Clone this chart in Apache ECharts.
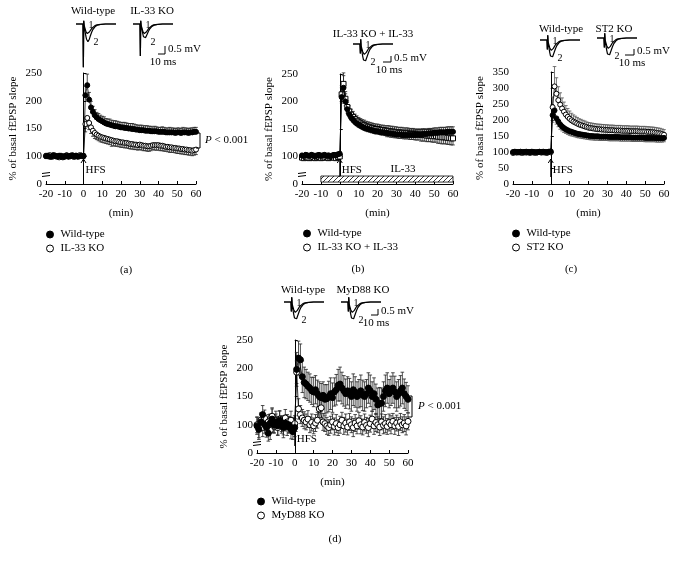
<!DOCTYPE html>
<html><head><meta charset="utf-8">
<script src="https://cdn.jsdelivr.net/npm/echarts@6/dist/echarts.min.js"></script>
<style>html,body{margin:0;padding:0;background:#fff}#c{width:676px;height:561px}</style>
</head><body><div id="c"></div>
<script>
// ---------- DATA ----------
const minutes = [-20,-19,-18,-17,-16,-15,-14,-13,-12,-11,-10,-9,-8,-7,-6,-5,-4,-3,-2,-1,0,
1,2,3,4,5,6,7,8,9,10,11,12,13,14,15,16,17,18,19,20,21,22,23,24,25,26,27,28,29,30,
31,32,33,34,35,36,37,38,39,40,41,42,43,44,45,46,47,48,49,50,51,52,53,54,55,56,57,58,59,60];

// (a) Wild-type vs IL-33 KO
const aWT = [100,101,99,100,102,100,99,101,100,98,100,101,99,100,102,100,101,99,100,101,100,
210,228,202,188,180,174,170,167,165,163,161,159,158,157,156,155,154,154,153,152,
152,151,151,150,150,149,149,148,148,147,147,147,146,146,146,145,145,145,145,144,
144,144,144,143,143,143,143,143,142,143,143,142,143,143,143,142,143,143,144,144];
const aWTerr = [4,4,3,4,4,3,4,4,3,4,4,3,4,4,3,4,4,3,4,4,4,
16,20,13,11,10,10,9,10,9,9,10,9,9,10,9,9,10,9,9,9,
9,10,9,9,9,10,9,9,8,9,9,8,9,9,8,9,8,9,8,8,
8,9,8,8,8,9,8,8,8,8,8,8,9,8,8,8,8,8,8,8];
const aKO = [101,100,102,99,100,101,100,98,101,100,99,102,100,101,100,99,101,100,102,101,101,
158,169,160,152,146,142,139,137,135,134,133,132,131,130,129,128,127,127,126,125,
125,124,124,123,122,122,121,121,120,121,120,119,119,118,118,119,120,120,120,120,
119,119,118,117,117,116,116,115,115,114,114,113,113,112,112,111,111,110,111,112];
const aKOerr = [4,3,4,4,3,4,4,3,4,4,3,4,4,3,4,4,3,4,4,3,4,
14,16,12,11,10,10,9,9,9,9,9,9,9,9,11,9,9,9,9,9,
9,9,9,9,9,9,9,9,9,9,9,9,9,9,9,9,8,9,9,9,
9,9,9,8,9,9,9,8,9,9,9,9,9,9,9,9,9,9,9,9];

// (b) Wild-type vs IL-33 KO + IL-33
const bWT = [102,101,103,102,101,103,102,100,102,103,101,102,103,101,102,100,102,103,102,104,105,
208,225,200,186,177,171,167,163,160,158,156,154,152,151,150,149,148,147,146,146,
145,144,144,143,143,142,142,141,141,140,140,140,139,139,139,139,139,139,139,139,
140,140,140,141,141,141,142,142,142,143,143,143,144,144,144,144,145,145,145,145];
const bWTerr = [3,3,4,3,3,4,3,3,4,3,3,4,3,3,4,3,3,4,3,3,4,
17,22,14,12,11,10,10,9,9,9,9,9,9,9,9,9,9,9,9,9,
9,9,9,9,9,9,9,9,9,9,9,9,9,9,9,9,9,9,9,9,
9,9,9,9,9,9,9,9,9,9,9,9,9,9,9,9,9,9,9,9];
const bKO = [98,97,99,98,97,98,99,97,98,99,97,98,98,99,97,98,99,98,97,99,100,
213,232,205,190,182,176,172,168,165,162,160,158,157,155,154,153,152,151,150,150,
149,148,148,147,146,146,145,145,144,144,143,143,143,142,142,142,141,141,141,140,
140,140,139,139,139,138,138,138,137,137,137,136,136,135,135,135,134,134,133,133];
const bKOerr = [4,3,3,4,3,3,4,3,3,4,3,3,4,3,3,4,3,3,4,3,3,
16,20,13,11,10,10,10,9,9,9,9,9,9,9,9,9,9,9,9,9,
9,9,9,9,10,10,10,10,10,10,10,10,10,10,10,10,10,10,10,10,
10,10,11,11,11,11,11,11,11,11,11,12,12,12,12,12,12,12,12,12];

// (c) Wild-type vs ST2 KO
const cWT = [100,101,100,99,101,100,100,101,99,100,101,100,100,99,101,100,101,100,100,101,102,
215,230,205,195,186,180,175,171,168,165,163,161,159,157,156,155,154,153,152,151,
150,150,149,149,149,148,148,148,148,148,147,147,147,147,147,147,146,146,146,146,
146,146,145,145,145,145,145,145,145,144,144,144,144,144,144,143,143,143,143,144];
const cWTerr = [5,5,6,5,5,6,5,5,6,5,5,6,5,5,6,5,5,6,5,5,6,
22,24,18,16,15,14,14,13,13,13,13,12,12,12,12,12,12,12,12,12,
12,12,12,12,12,12,12,12,12,12,12,12,12,12,12,12,12,12,12,12,
12,12,12,12,12,12,12,12,12,12,12,12,12,12,12,12,12,12,12,12];
const cKO = [97,99,98,100,98,97,99,98,100,97,99,98,97,99,100,98,99,98,97,100,99,
240,305,282,262,248,236,226,217,210,204,199,195,192,189,186,184,182,180,178,176,
175,174,173,172,171,171,170,170,169,169,168,168,168,167,167,167,167,166,166,166,
166,165,165,165,165,165,164,164,164,164,163,163,162,162,161,160,159,158,156,154];
const cKOerr = [6,5,6,6,5,6,6,5,6,6,5,6,6,5,6,6,5,6,6,5,6,
32,62,50,42,37,33,30,28,26,24,22,21,20,19,18,18,17,17,16,16,
16,16,16,16,16,16,16,16,16,16,16,16,16,16,16,16,16,16,16,16,
16,16,16,16,16,16,16,16,16,16,16,16,16,16,16,16,16,16,16,16];

// (d) Wild-type vs MyD88 KO
const dWT = [98,92,105,118,100,95,85,103,110,100,105,98,108,100,95,103,97,100,92,88,95,
198,218,215,185,175,172,168,165,160,158,162,155,150,148,152,145,146,150,155,148,
158,162,170,172,165,160,155,160,155,150,162,158,150,155,160,152,150,155,165,160,
150,155,145,135,138,138,150,160,165,155,160,165,158,150,155,160,165,155,150,145];
const dWTerr = [15,18,14,16,15,17,14,16,18,15,14,17,16,15,18,14,16,15,17,14,16,
30,30,28,28,27,26,25,25,24,26,25,24,26,25,24,26,25,27,28,26,
25,27,28,30,28,27,26,25,27,26,28,27,26,25,28,27,26,25,27,28,
26,28,27,30,28,27,26,28,27,25,26,27,28,26,25,27,28,26,25,24];
const dKO = [100,92,108,95,112,98,105,90,115,100,108,95,110,102,98,112,105,100,108,98,102,
193,128,118,112,108,105,110,100,104,98,103,108,128,130,105,102,98,95,100,105,
97,102,95,100,108,98,103,96,105,100,95,103,98,107,100,96,104,99,95,102,
110,98,104,100,96,105,99,102,97,104,100,106,98,103,97,105,100,103,98,106];
const dKOerr = [14,15,13,16,14,15,13,16,15,14,16,13,15,14,16,15,13,14,16,15,14,
20,18,16,15,15,14,15,14,15,14,15,14,16,17,15,14,15,14,15,14,
15,16,14,15,14,15,16,14,15,14,16,15,14,15,16,14,15,14,16,15,
14,15,16,14,15,14,15,16,14,15,16,14,15,14,16,15,14,15,16,15];

// example fEPSP traces (ms, mV)
const traceMs = [0,10,10.5,11,11.5,12,13,14,15,16,17,18,19,20,22,24,27,30,35,42,57];
const aWT1 = [0,0,-2.7,0.2,-0.05,-0.15,-0.3,-0.45,-0.55,-0.6,-0.6,-0.55,-0.5,-0.42,-0.3,-0.2,-0.1,-0.05,-0.02,0,0];
const aWT2 = [0,0,-2.7,0.2,-0.1,-0.25,-0.5,-0.75,-0.95,-1.05,-1.1,-1.05,-0.95,-0.8,-0.55,-0.35,-0.18,-0.08,-0.03,0,0];
const aKO1 = [0,0,-2.0,0.2,-0.05,-0.15,-0.3,-0.45,-0.55,-0.6,-0.6,-0.55,-0.5,-0.42,-0.3,-0.2,-0.1,-0.05,-0.02,0,0];
const aKO2 = [0,0,-2.0,0.2,-0.1,-0.2,-0.4,-0.62,-0.8,-0.88,-0.9,-0.85,-0.78,-0.65,-0.45,-0.3,-0.15,-0.07,-0.03,0,0];
const trace1 = [0,0,-0.6,0.3,-0.1,-0.2,-0.35,-0.5,-0.6,-0.65,-0.65,-0.6,-0.52,-0.44,-0.3,-0.2,-0.1,-0.05,-0.02,0,0];
const trace2 = [0,0,-0.6,0.3,-0.15,-0.3,-0.55,-0.8,-1.0,-1.1,-1.1,-1.05,-0.95,-0.8,-0.55,-0.35,-0.18,-0.08,-0.03,0,0];

const yTicksBroken = ['0','100','150','200','250'];

// ---------- LAYOUT ----------
const F = '"Liberation Serif","DejaVu Serif",serif';
const panels = [
  {grid:{left:46, top:73, width:150, height:111}, ymin:50, ymax:250, broken:true,
   wt:aWT, wtErr:aWTerr, wtDir:'up', ko:aKO, koErr:aKOerr, koDir:'down', koName:'IL-33 KO', koSym:'circle', size:5,
   legend:{left:46, top:229}},
  {grid:{left:302, top:74, width:151, height:110}, ymin:50, ymax:250, broken:true,
   wt:bWT, wtErr:bWTerr, wtDir:'up', ko:bKO, koErr:bKOerr, koDir:'both', koName:'IL-33 KO + IL-33', koSym:'rect', size:5,
   legend:{left:303, top:228}},
  {grid:{left:513, top:72, width:151, height:112}, ymin:0, ymax:350, broken:false,
   wt:cWT, wtErr:cWTerr, wtDir:'down', ko:cKO, koErr:cKOerr, koDir:'up', koName:'ST2 KO', koSym:'circle', size:5,
   legend:{left:512, top:228}},
  {grid:{left:257, top:340, width:151, height:113}, ymin:50, ymax:250, broken:true,
   wt:dWT, wtErr:dWTerr, wtDir:'both', ko:dKO, koErr:dKOerr, koDir:'both', koName:'MyD88 KO', koSym:'circle', size:6,
   legend:{left:257, top:496}}
];
const traceBoxes = [
  {left:76, base:24, t1:aWT1, t2:aWT2},
  {left:133, base:24, t1:aKO1, t2:aKO2},
  {left:353, base:44, t1:trace1, t2:trace2},
  {left:540, base:40, t1:trace1, t2:trace2},
  {left:597, base:38, t1:trace1, t2:trace2},
  {left:284, base:302, t1:trace1, t2:trace2},
  {left:341, base:302, t1:trace1, t2:trace2}
];

// hatch pattern
const hatch = document.createElement('canvas');
hatch.width = 5; hatch.height = 5;
(function(){const g = hatch.getContext('2d'); g.fillStyle='#fff'; g.fillRect(0,0,5,5);
 g.strokeStyle='#000'; g.lineWidth=0.8; g.beginPath(); g.moveTo(0,5); g.lineTo(5,0);
 g.moveTo(-1,1); g.lineTo(1,-1); g.moveTo(4,6); g.lineTo(6,4); g.stroke();})();

function errSeries(gi, vals, errs, dir, color) {
  return {type:'custom', name:'err'+gi+dir, xAxisIndex:gi, yAxisIndex:gi, silent:true, z:1, clip:false,
    data: minutes.map((m,i)=>[m, vals[i], errs[i]]), encode:{x:0, y:1},
    renderItem:(params, api)=>{
      const x=api.value(0), v=api.value(1), e=api.value(2);
      const t = api.coord([x, dir==='down'? v : v+e]);
      const b = api.coord([x, dir==='up'? v : v-e]);
      const st = {stroke:color, lineWidth:0.8};
      const ch = [{type:'line', shape:{x1:t[0],y1:t[1],x2:b[0],y2:b[1]}, style:st}];
      if (dir!=='down') ch.push({type:'line', shape:{x1:t[0]-1.8,y1:t[1],x2:t[0]+1.8,y2:t[1]}, style:st});
      if (dir!=='up') ch.push({type:'line', shape:{x1:b[0]-1.8,y1:b[1],x2:b[0]+1.8,y2:b[1]}, style:st});
      return {type:'group', children:ch};
    }};
}

const grids=[], xAxes=[], yAxes=[], series=[], legends=[];
const axisText = {color:'#000', fontSize:11, fontFamily:F};
panels.forEach((p, gi)=>{
  grids.push(p.grid);
  xAxes.push({type:'value', gridIndex:gi, min:-20, max:60, interval:10,
    axisLine:{lineStyle:{color:'#000', width:1}}, axisTick:{inside:true, length:3, lineStyle:{color:'#000'}},
    splitLine:{show:false}, axisLabel:{...axisText, margin:5, showMinLabel:true, showMaxLabel:true},
    name:'(min)', nameLocation:'middle', nameGap:24, nameTextStyle:{...axisText}});
  yAxes.push({type:'value', gridIndex:gi, min:p.ymin, max:p.ymax, interval:50,
    axisLine:{show:true, lineStyle:{color:'#000', width:1}}, axisTick:{show:true, inside:true, length:3, lineStyle:{color:'#000'}},
    splitLine:{show:false},
    axisLabel:{...axisText, margin:4, showMinLabel:true, showMaxLabel:true, formatter: v => p.broken ? yTicksBroken[(v-50)/50] : String(v)},
    name:'% of basal fEPSP slope', nameLocation:'middle', nameGap:27, nameTextStyle:{...axisText, fontSize:11}});
  const ecol = gi===2 ? '#555' : '#222';
  series.push(errSeries(gi, p.ko, p.koErr, p.koDir, ecol));
  series.push(errSeries(gi, p.wt, p.wtErr, p.wtDir, ecol));
  const koS = {type:'line', name:p.koName, xAxisIndex:gi, yAxisIndex:gi, z:3,
    data: minutes.map((m,i)=>[m, p.ko[i]]), symbol:p.koSym, symbolSize:p.size, showAllSymbol:true,
    lineStyle:{color:'#000', width:0.8}, itemStyle:{color:'#fff', borderColor:'#000', borderWidth:1}};
  const wtS = {type:'line', name:'Wild-type', xAxisIndex:gi, yAxisIndex:gi, z:4,
    data: minutes.map((m,i)=>[m, p.wt[i]]), symbol:'circle', symbolSize:p.size, showAllSymbol:true,
    lineStyle:{color:'#000', width:0.8}, itemStyle:{color:'#000', borderColor:'#000', borderWidth:1}};
  if (gi===1) {
    wtS.markArea = {silent:true, itemStyle:{color:{image:hatch, repeat:'repeat'}, borderColor:'#000', borderWidth:0.8},
      data:[[{coord:[-10, 53.5]}, {coord:[60, 64.5]}]]};
  }
  if (gi===2) { series.push(wtS); series.push(koS); } else { series.push(koS); series.push(wtS); }
  legends.push({left:p.legend.left, top:p.legend.top, orient:'vertical', itemGap:3, itemWidth:7, itemHeight:7,
    padding:0, selectedMode:false, itemStyle:{borderWidth:1},
    textStyle:{...axisText, fontSize:11, padding:[0,0,0,2]},
    data:[{name:'Wild-type', icon:'circle'}, {name:p.koName, icon:'circle'}]});
});

traceBoxes.forEach((t, k)=>{
  const gi = panels.length + k;
  grids.push({left:t.left, top:t.base-8, width:40, height:52.8});
  xAxes.push({type:'value', gridIndex:gi, min:0, max:57, show:false});
  yAxes.push({type:'value', gridIndex:gi, min:-2.8, max:0.5, show:false});
  [t.t1, t.t2].forEach((arr)=>{
    series.push({type:'line', name:'trace'+k, xAxisIndex:gi, yAxisIndex:gi, silent:true, symbol:'none', clip:false,
      data: traceMs.map((m,i)=>[m, arr[i]]), lineStyle:{color:'#000', width:1.2}});
  });
});

const chart = echarts.init(document.getElementById('c'), null, {renderer:'canvas'});
chart.setOption({animation:false, backgroundColor:'#fff', grid:grids, xAxis:xAxes, yAxis:yAxes, series, legend:legends});

// ---------- ANNOTATIONS ----------
function txt(t, x, y, align, size, extra) {
  return {type:'text', x, y, z:100, silent:true,
    style:Object.assign({text:t, fontSize:size||11, fontFamily:F, fill:'#000', align:align||'center', verticalAlign:'middle'}, extra||{})};
}
function ln(x1,y1,x2,y2,w){return {type:'line', z:100, silent:true, shape:{x1,y1,x2,y2}, style:{stroke:'#000', lineWidth:w||1}};}
const G = [];
G.push(txt('Wild-type', 93, 11), txt('IL-33 KO', 152, 11));
G.push(txt('IL-33 KO + IL-33', 373, 34));
G.push(txt('Wild-type', 561, 29), txt('ST2 KO', 614, 29));
G.push(txt('Wild-type', 303, 290), txt('MyD88 KO', 363, 290));
traceBoxes.forEach(t=>{ G.push(txt('1', t.left+15, t.base+1, 'center', 10), txt('2', t.left+20, t.base+18, 'center', 10)); });
[[165,46,54,158],[391,56,62,383],[634,49,55,625],[378,309,315,371]].forEach(s=>{
  const [x, y1, y2, xl] = s;
  G.push(ln(x, y1, x, y2), ln(xl, y2, x, y2));
  G.push(txt('0.5 mV', x+3, (y1+y2)/2-1, 'left', 11));
  G.push(txt('10 ms', x-2, y2+8, 'center', 11));
});
panels.forEach((p, gi)=>{
  const px = chart.convertToPixel({gridIndex:gi}, [0, p.ymin])[0];
  const by = p.grid.top + p.grid.height;
  const top = by - 25, bot = by - 7;
  G.push(ln(px, bot, px, top, 1));
  G.push({type:'polyline', z:100, silent:true, shape:{points:[[px-2.5, top+4],[px, top],[px+2.5, top+4]]}, style:{stroke:'#000', fill:null, lineWidth:1}});
  G.push(txt('HFS', px+2, by-14, 'left', 11));
  if (p.broken) {
    const ax = p.grid.left;
    G.push({type:'rect', z:100, silent:true, shape:{x:ax-4, y:by-11, width:8, height:3}, style:{fill:'#fff'}});
    G.push(ln(ax-4, by-10.5, ax+4, by-11.5, 1), ln(ax-4, by-7.5, ax+4, by-8.5, 1));
  }
});
G.push(txt('IL-33', 403, 169));
[[200,133,148,205],[412,396,417,418]].forEach(b=>{
  const [x, y1, y2, tx] = b;
  G.push({type:'polyline', z:100, silent:true, shape:{points:[[x-4,y1],[x,y1],[x,y2],[x-4,y2]]}, style:{stroke:'#000', fill:null, lineWidth:1}});
  G.push({type:'text', x:tx, y:(y1+y2)/2, z:100, silent:true, style:{text:'{i|P} < 0.001', fontSize:11, fontFamily:F, fill:'#000', align:'left', verticalAlign:'middle',
    rich:{i:{fontStyle:'italic', fontSize:11, fontFamily:F, fill:'#000'}}}});
});
G.push(txt('(a)', 126, 270), txt('(b)', 358, 269), txt('(c)', 571, 269), txt('(d)', 335, 539));
chart.setOption({graphic:G});
</script></body></html>
